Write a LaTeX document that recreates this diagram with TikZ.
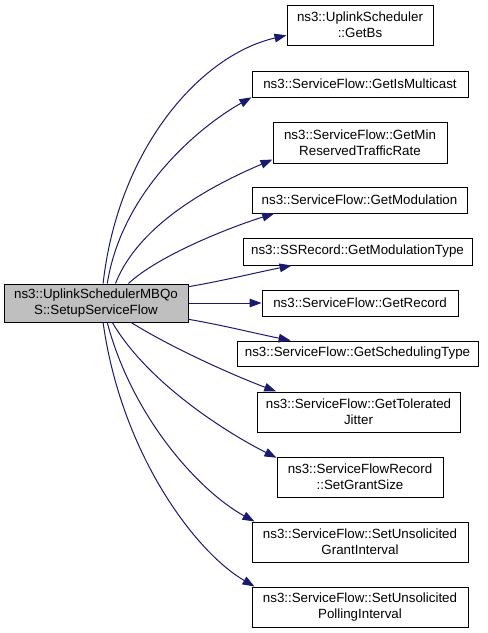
\documentclass[tikz,border=0pt]{standalone}
\usepackage{fontspec}
\setmainfont[Ligatures=NoCommon]{Liberation Sans}
\usetikzlibrary{arrows.meta}

\definecolor{edgeblue}{RGB}{25,25,112}
\definecolor{srcgray}{RGB}{191,191,191}

\tikzset{
  box/.style={draw=black, line width=0.75pt, inner sep=0pt, align=center,
    font=\fontsize{10}{12}\selectfont},
  srcbox/.style={box, fill=srcgray},
  call/.style={draw=edgeblue, line width=0.75pt,
    -{Triangle[length=9pt, width=6.5pt]}, color=edgeblue}
}

\begin{document}
\begin{tikzpicture}[x=0.75pt, y=-0.75pt]
  \useasboundingbox (0, 0) rectangle (488, 633);

  % caller
  \node[srcbox, minimum width=184*0.75pt, minimum height=38*0.75pt] (src) at (96, 303)
    {ns3::UplinkSchedulerMBQo\\S::SetupServiceFlow};

  % callees
  \node[box, minimum width=146*0.75pt, minimum height=40*0.75pt] (bs) at (360, 25)
    {ns3::UplinkScheduler\\::GetBs};
  \node[box, minimum width=216*0.75pt, minimum height=26*0.75pt] (multicast) at (360, 84)
    {ns3::ServiceFlow::GetIsMulticast};
  \node[box, minimum width=174*0.75pt, minimum height=41*0.75pt] (minrate) at (360, 142.5)
    {ns3::ServiceFlow::GetMin\\ReservedTrafficRate};
  \node[box, minimum width=215*0.75pt, minimum height=26*0.75pt] (modulation) at (359.5, 200)
    {ns3::ServiceFlow::GetModulation};
  \node[box, minimum width=229*0.75pt, minimum height=27*0.75pt] (modtype) at (357.5, 251.5)
    {ns3::SSRecord::GetModulationType};
  \node[box, minimum width=196*0.75pt, minimum height=26*0.75pt] (record) at (360, 303)
    {ns3::ServiceFlow::GetRecord};
  \node[box, minimum width=241*0.75pt, minimum height=25*0.75pt] (schedtype) at (357.5, 353.5)
    {ns3::ServiceFlow::GetSchedulingType};
  \node[box, minimum width=203*0.75pt, minimum height=40*0.75pt] (jitter) at (358.5, 412)
    {ns3::ServiceFlow::GetTolerated\\Jitter};
  \node[box, minimum width=166*0.75pt, minimum height=40*0.75pt] (grantsize) at (360, 477)
    {ns3::ServiceFlowRecord\\::SetGrantSize};
  \node[box, minimum width=216*0.75pt, minimum height=40*0.75pt] (grantint) at (360, 542)
    {ns3::ServiceFlow::SetUnsolicited\\GrantInterval};
  \node[box, minimum width=216*0.75pt, minimum height=40*0.75pt] (pollint) at (360, 607)
    {ns3::ServiceFlow::SetUnsolicited\\PollingInterval};

  % calls
  \draw[call] (src.70) .. controls +(15, -134) and +(-87, 20) .. (bs.188);
  \draw[call] (src.60) .. controls +(15, -94) and +(-50, 28) .. (multicast.187);
  \draw[call] (src.45) .. controls +(25, -64) and +(-49, 21) .. (minrate.191);
  \draw[call] (src.31) .. controls +(30, -28) and +(-45, 14) .. (modulation.189);
  \draw[call] (src.10) .. controls +(35, -6) and +(-35, 7) .. (modtype.192);
  \draw[call] (src.east) -- (record.west);
  \draw[call] (src.-10) .. controls +(35, 6) and +(-35, -7) .. (schedtype.169);
  \draw[call] (src.-29) .. controls +(40, 25) and +(-45, -17) .. (jitter.166);
  \draw[call] (src.-50) .. controls +(35, 60) and +(-50, -25) .. (grantsize.167);
  \draw[call] (src.-60) .. controls +(25, 95) and +(-55, -30) .. (grantint.169);
  \draw[call] (src.-70) .. controls +(18, 130) and +(-60, -35) .. (pollint.169);
\end{tikzpicture}
\end{document}
